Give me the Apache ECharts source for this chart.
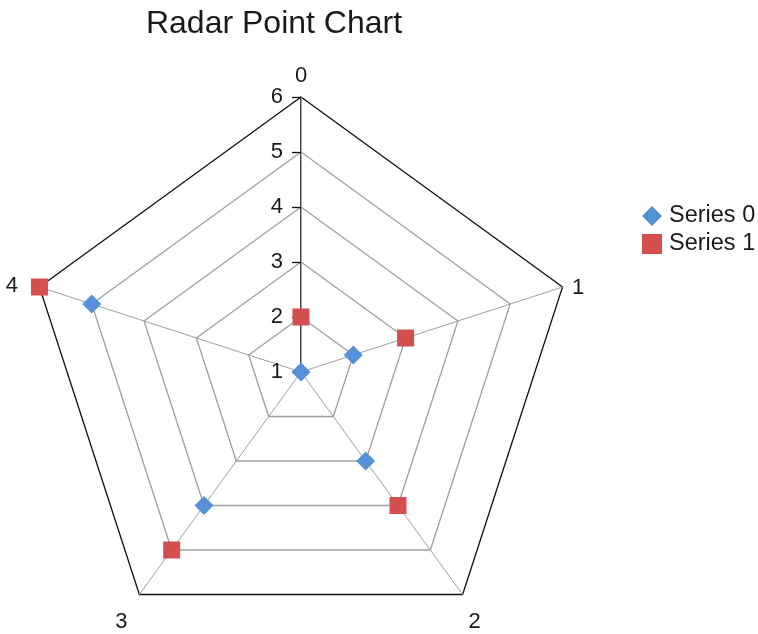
<!DOCTYPE html>
<html>
<head>
<meta charset="utf-8">
<script src="https://cdn.jsdelivr.net/npm/echarts@6/dist/echarts.min.js"></script>
<style>html,body{margin:0;padding:0;background:#fff;}#c{width:758px;height:634px;}</style>
</head>
<body>
<div id="c"></div>
<script>
var categories = ['0', '1', '2', '3', '4'];
var series0 = [1, 2, 3, 4, 5];
var series1 = [2, 3, 4, 5, 6];
var seriesNames = ['Series 0', 'Series 1'];
var axisMin = 1, axisMax = 6;

// ECharts lays radar indicators counter-clockwise; the reference goes clockwise.
var order = [0, 4, 3, 2, 1];
function reorder(arr) { return order.map(function (i) { return arr[i]; }); }

var chart = echarts.init(document.getElementById('c'), null, {renderer: 'canvas'});
var FONT = 'Liberation Sans, Arial, sans-serif';
var CENTER = [301, 372], R = 275;
var nameStyle = {color: '#1a1a1a', fontFamily: FONT, fontSize: 22};
function padStyle(p) { return Object.assign({}, nameStyle, {padding: p}); }
var option = {
  backgroundColor: '#fff',
  animation: false,
  title: {
    text: 'Radar Point Chart', left: 269, top: 3, textAlign: 'center',
    textStyle: {fontFamily: FONT, fontSize: 32, fontWeight: 'normal', color: '#1a1a1a'}
  },
  legend: {
    orient: 'vertical', left: 637, top: 199, itemGap: 4,
    itemWidth: 20, itemHeight: 20,
    textStyle: {fontFamily: FONT, fontSize: 23.5, color: '#1a1a1a', padding: [0, 0, 0, 2]},
    data: [{name: seriesNames[0], icon: 'diamond'}, {name: seriesNames[1], icon: 'rect'}]
  },
  radar: {
    center: CENTER, radius: R, shape: 'polygon', startAngle: 90,
    splitNumber: 5,
    indicator: reorder(categories).map(function (c) { return {name: c, min: axisMin, max: axisMax}; }),
    axisName: {
      color: '#1a1a1a', fontFamily: FONT, fontSize: 22,
      formatter: function (name) {
        var key = {'0': 'n', '1': 'r', '2': 'b', '3': 'bl', '4': 'l'}[name] || 'n';
        return '{' + key + '|' + name + '}';
      },
      rich: {
        n: padStyle([0, 0, 0, 0]),
        r: padStyle([8, 0, 0, 0]),
        b: padStyle([38, 0, 0, 0]),
        bl: padStyle([38, 6, 0, 0]),
        l: padStyle([4, 12, 0, 0])
      }
    },
    nameGap: 10,
    axisLine: {lineStyle: {color: '#a0a0a0', width: 1}},
    splitLine: {lineStyle: {color: ['#a0a0a0', '#a0a0a0', '#a0a0a0', '#a0a0a0', '#a0a0a0', '#111'], width: 1.3}},
    splitArea: {show: false},
    axisTick: {show: false},
    axisLabel: {show: false}
  },
  polar: {center: CENTER, radius: [0, R]},
  angleAxis: {show: false, startAngle: 90, type: 'value', min: 0, max: 360},
  radiusAxis: {
    type: 'value', min: axisMin, max: axisMax, interval: 1,
    axisLine: {show: true, lineStyle: {color: '#111', width: 1.5}},
    axisTick: {show: true, length: 9, lineStyle: {color: '#111', width: 1.3}},
    axisLabel: {show: true, color: '#1a1a1a', fontFamily: FONT, fontSize: 22, margin: 18},
    splitLine: {show: false}
  },
  series: [{
    type: 'radar', name: seriesNames[0],
    symbol: 'diamond', symbolSize: 19,
    itemStyle: {color: '#5690D8'},
    lineStyle: {width: 0, opacity: 0},
    data: [{name: seriesNames[0], value: reorder(series0)}]
  }, {
    type: 'radar', name: seriesNames[1],
    symbol: 'rect', symbolSize: 17,
    itemStyle: {color: '#D4504E'},
    lineStyle: {width: 0, opacity: 0},
    data: [{name: seriesNames[1], value: reorder(series1)}]
  }]
};
chart.setOption(option);
</script>
</body>
</html>
